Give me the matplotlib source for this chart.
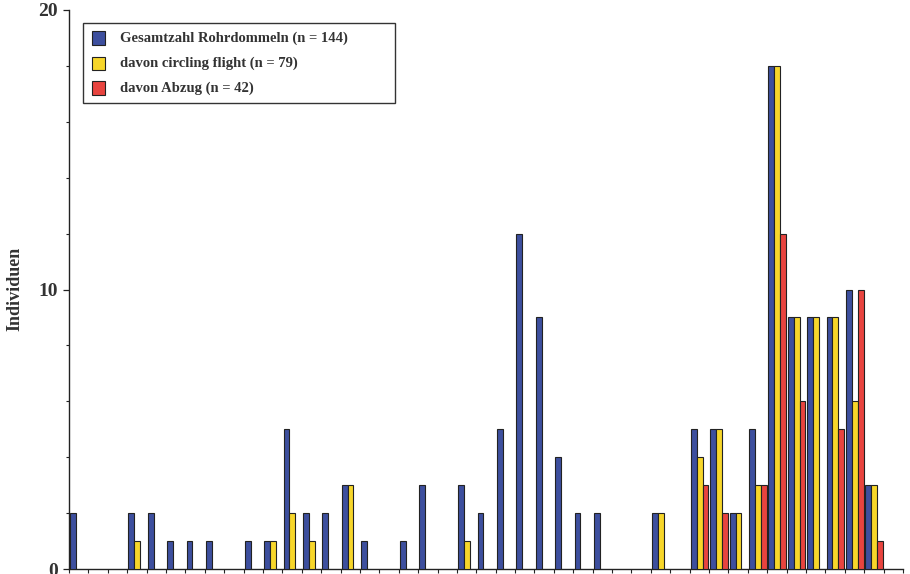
import matplotlib
matplotlib.use('Agg')
import matplotlib.pyplot as plt
from matplotlib.patches import Rectangle
from matplotlib.ticker import MultipleLocator
import numpy as np

# ---- data -------------------------------------------------------------
periods = list(range(43))
gesamt = [2, 0, 0, 2, 2, 1, 1, 1, 0, 1, 1, 5, 2, 2, 3, 1, 0, 1, 3, 0, 3, 2,
          5, 12, 9, 4, 2, 2, 0, 0, 2, 0, 5, 5, 2, 5, 18, 9, 9, 9, 10, 3, 0]
circling = [0, 0, 0, 1, 0, 0, 0, 0, 0, 0, 1, 2, 1, 0, 3, 0, 0, 0, 0, 0, 1, 0,
            0, 0, 0, 0, 0, 0, 0, 0, 2, 0, 4, 5, 2, 3, 18, 9, 9, 9, 6, 3, 0]
abzug = [0, 0, 0, 0, 0, 0, 0, 0, 0, 0, 0, 0, 0, 0, 0, 0, 0, 0, 0, 0, 0, 0,
         0, 0, 0, 0, 0, 0, 0, 0, 0, 0, 3, 2, 0, 3, 12, 6, 0, 5, 10, 1, 0]
labels = ["Gesamtzahl Rohrdommeln (n = 144)",
          "davon circling flight (n = 79)",
          "davon Abzug (n = 42)"]
colors = ["#3D4F9E", "#F7D62A", "#E8443F"]

serif = ["Liberation Serif", "DejaVu Serif"]
plt.rcParams['font.family'] = serif

fig = plt.figure(figsize=(9.10, 5.74), dpi=100)
W, H = 910, 574
x0, x1, y0, y1 = 69, 903, 569, 10
ax = fig.add_axes([x0 / W, 1 - y0 / H, (x1 - x0) / W, (y0 - y1) / H])

x = np.array(periods, dtype=float)
bw = 0.3
offsets = [0.215, 0.515, 0.815]
for series, off, col in zip([gesamt, circling, abzug], offsets, colors):
    vals = np.array(series, dtype=float)
    mask = vals > 0
    ax.bar(x[mask] + off, vals[mask], width=bw, color=col,
           edgecolor="#222222", linewidth=0.8, zorder=3)

ax.set_xlim(0, 43)
ax.set_ylim(0, 20)
ax.spines['top'].set_visible(False)
ax.spines['right'].set_visible(False)
for s in ['left', 'bottom']:
    ax.spines[s].set_linewidth(1.0)
    ax.spines[s].set_color("#222222")

ax.set_xticks(np.arange(0, 44))
ax.set_xticklabels([])
ax.tick_params(axis='x', direction='out', length=3, width=0.8, colors="#222222")
ax.set_yticks([0, 10, 20])
ax.yaxis.set_minor_locator(MultipleLocator(2))
ax.tick_params(axis='y', which='major', direction='out', length=4, width=0.9,
               colors="#222222", labelsize=14, pad=4)
ax.tick_params(axis='y', which='minor', direction='out', length=2, width=0.8,
               colors="#222222")
for t in ax.get_yticklabels():
    t.set_fontweight('bold')
    t.set_color("#333333")

fig.text(15 / W, 1 - 289 / H, "Individuen", rotation=90, ha='center',
         va='center', fontsize=13, fontweight='bold', color="#333333")

# legend drawn as a framed box in axes coordinates
def ax_x(px):
    return (px - x0) / (x1 - x0)

def ax_y(py):
    return (y0 - py) / (y0 - y1)

box = Rectangle((ax_x(83), ax_y(103)), ax_x(395) - ax_x(83),
                ax_y(23) - ax_y(103), transform=ax.transAxes,
                facecolor='white', edgecolor="#333333", linewidth=1.0,
                zorder=5)
ax.add_patch(box)
rows = [38, 63, 88]
for lab, col, ry in zip(labels, colors, rows):
    ax.add_patch(Rectangle((ax_x(92), ax_y(ry + 6.5)), ax_x(105) - ax_x(92),
                           ax_y(ry - 6.5) - ax_y(ry + 6.5),
                           transform=ax.transAxes, facecolor=col,
                           edgecolor="#222222", linewidth=0.8, zorder=6))
    ax.text(ax_x(120), ax_y(ry), lab, transform=ax.transAxes, ha='left',
            va='center', fontsize=10.5, fontweight='bold', color="#333333",
            zorder=6)

fig.savefig("out.png", dpi=100, facecolor='white')
